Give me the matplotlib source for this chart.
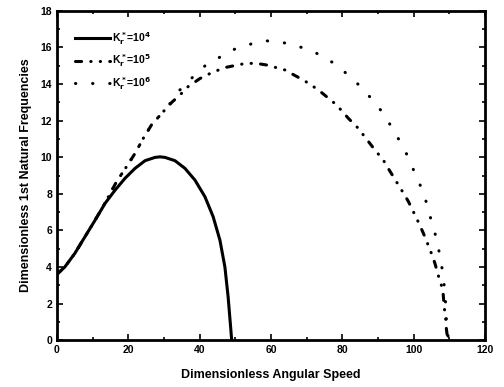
import matplotlib
matplotlib.use("Agg")
import matplotlib.pyplot as plt
from matplotlib.ticker import MultipleLocator

plt.rcParams['font.family'] = ['Liberation Sans', 'DejaVu Sans']
plt.rcParams['font.weight'] = 'bold'
plt.rcParams['mathtext.default'] = 'bf'

# curva K_r* = 10^4
x_k4 = [0, 2.2, 5.0, 7.85, 10.7, 13.5, 16.3, 19.1, 21.9, 24.7, 27.5, 28.9, 30.3, 33.1, 35.9, 38.7,
        41.5, 43.8, 45.7, 47.1, 48.0, 48.7, 49.0]
y_k4 = [3.6, 4.0, 4.74, 5.65, 6.56, 7.48, 8.2, 8.85, 9.39, 9.81, 9.99, 10.02, 9.99, 9.81, 9.39, 8.75,
        7.84, 6.75, 5.47, 4.0, 2.37, 0.73, 0.0]

# curva K_r* = 10^5
x_k5 = [0, 2.2, 5.0, 7.85, 10.7, 13.5, 16.7, 19.5, 21.9, 24.2, 26.5, 29.4, 32.2, 34.5, 36.8, 40.1,
        43.4, 47.1, 52.2, 55.5, 58.8, 63.9, 69.5, 73.3, 78.4, 81.7, 84.5, 86.3, 89.2, 91.5, 92.9,
        95.2, 97.1, 98.5, 100.4, 101.6, 102.7, 104.1, 105.2, 106.0, 106.9, 107.7, 108.3, 108.6,
        109.0, 109.2, 109.5, 109.7]
y_k5 = [3.6, 4.0, 4.74, 5.65, 6.56, 7.5, 8.66, 9.48, 10.21, 11.03, 11.76, 12.4, 13.0, 13.4, 13.86, 14.3,
        14.62, 14.9, 15.1, 15.14, 15.04, 14.77, 14.17, 13.68, 12.86, 12.13, 11.58, 11.12, 10.39, 9.85, 9.39,
        8.66, 8.06, 7.6, 6.84, 6.35, 5.87, 5.2, 4.65, 4.2, 3.56, 3.1, 2.55, 1.82,
        1.19, 0.64, 0.18, 0.0]

# curva K_r* = 10^6
x_k6 = [0, 2.2, 5.0, 7.85, 10.7, 13.5, 16.7, 19.5, 21.9, 24.2, 26.5, 29.4, 32.2, 34.5, 38.2, 41.5,
        45.2, 48.5, 51.8, 55.2, 58.8, 62.2, 65.8, 69.2, 72.8, 76.3, 79.8, 83.1, 86.5, 89.6, 92.1,
        94.3, 96.3, 98.2, 99.7, 101.3, 102.7, 103.9, 104.8, 105.8, 106.7, 107.4, 108.0, 108.5,
        108.8, 109.1, 109.2, 109.5, 109.7, 109.8]
y_k6 = [3.6, 4.0, 4.74, 5.65, 6.56, 7.5, 8.66, 9.48, 10.21, 11.03, 11.76, 12.4, 13.05, 13.68, 14.4, 14.99,
        15.41, 15.81, 16.04, 16.23, 16.36, 16.3, 16.18, 15.96, 15.68, 15.32, 14.8, 14.26, 13.57, 12.89, 12.22,
        11.49, 10.83, 10.12, 9.43, 8.75, 8.06, 7.35, 6.66, 6.02, 5.29, 4.61, 3.92, 3.19,
        2.46, 1.79, 1.13, 0.55, 0.18, 0.0]

labels = [r"K$_r^*$=10$^4$", r"K$_r^*$=10$^5$", r"K$_r^*$=10$^6$"]

fig = plt.figure(figsize=(5.04, 3.87), dpi=100)
ax = fig.add_axes([0.113, 0.121, 0.849, 0.851])

ax.plot(x_k4, y_k4, color='black', lw=2.2, label=labels[0])
ax.plot(x_k5, y_k5, color='black', lw=2.2, dashes=(2.0, 3.0, 0.1, 3.0, 0.1, 3.0),
        dash_capstyle='round', label=labels[1])
ax.plot(x_k6, y_k6, color='black', lw=2.2, dashes=(0.1, 5.5), dash_capstyle='round', label=labels[2])

ax.set_xlim(0, 120)
ax.set_ylim(0, 18)
ax.xaxis.set_major_locator(MultipleLocator(20))
ax.xaxis.set_minor_locator(MultipleLocator(10))
ax.yaxis.set_major_locator(MultipleLocator(2))
ax.yaxis.set_minor_locator(MultipleLocator(1))
ax.tick_params(which='both', direction='in', top=True, right=True, width=1.2, labelsize=7.5)
ax.tick_params(which='major', length=4)
ax.tick_params(which='minor', length=2)
for s in ax.spines.values():
    s.set_linewidth(2)

ax.set_xlabel("Dimensionless Angular Speed", fontsize=9, fontweight='bold', labelpad=10)
ax.set_ylabel("Dimensionless 1st Natural Frequencies", fontsize=9, fontweight='bold', labelpad=6)

ax.legend(loc='upper left', frameon=False, fontsize=7.5, handlelength=3.4, handletextpad=0.2,
          labelspacing=0.55, bbox_to_anchor=(0.02, 0.97))

fig.savefig("out.png", dpi=100)
